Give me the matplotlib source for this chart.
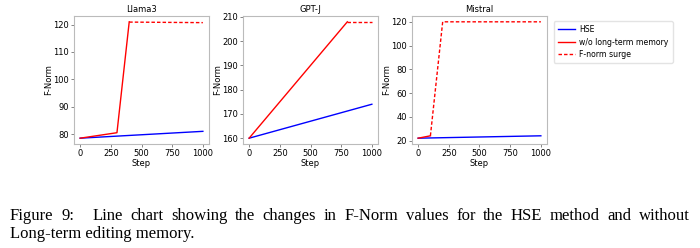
import matplotlib
import matplotlib.pyplot as plt

matplotlib.rcParams['font.family'] = 'DejaVu Sans'

# ---- data ----
models = ['Llama3', 'GPT-J', 'Mistral']

hse_steps = [[0, 1000], [0, 1000], [0, 1000]]
hse_vals = [[78.5, 81.0], [160.0, 174.0], [22.0, 24.0]]

# w/o long-term memory (solid part)
wo_steps = [[0, 300, 400], [0, 800], [0, 100]]
wo_vals = [[78.5, 80.5, 121.0], [160.0, 208.0], [22.0, 24.0]]

# F-norm surge (dashed part)
surge_steps = [[400, 1000], [800, 1000], [100, 200, 1000]]
surge_vals = [[120.9, 120.7], [208.0, 208.0], [24.0, 120.0, 120.0]]

yticks = [[80, 90, 100, 110, 120],
          [160, 170, 180, 190, 200, 210],
          [20, 40, 60, 80, 100, 120]]
xticks = [0, 250, 500, 750, 1000]

caption_1 = 'Figure 9:  Line chart showing the changes in F-Norm values for the HSE method and without'
caption_2 = 'Long-term editing memory.'

W, H = 700, 248
fig = plt.figure(figsize=(W / 100, H / 100), dpi=100)

lefts = [74, 243, 412]
ax_w, ax_top, ax_bot = 135, 16, 144

for i, name in enumerate(models):
    ax = fig.add_axes([lefts[i] / W, 1 - ax_bot / H, ax_w / W, (ax_bot - ax_top) / H])
    ax.plot(hse_steps[i], hse_vals[i], color='#0000ff', lw=1.0, label='HSE')
    ax.plot(wo_steps[i], wo_vals[i], color='#ff0000', lw=1.0, label='w/o long-term memory')
    ax.plot(surge_steps[i], surge_vals[i], color='#ff0000', lw=1.0, ls='--',
            dashes=(2.5, 1.5), label='F-norm surge')
    ax.set_xticks(xticks)
    ax.set_yticks(yticks[i])
    ax.set_title(name, fontsize=6, pad=3)
    ax.set_xlabel('Step', fontsize=6, labelpad=1)
    ax.set_ylabel('F-Norm', fontsize=6, labelpad=0)
    ax.tick_params(labelsize=6, length=2, width=0.5, pad=1.5, color='#555555')
    for s in ax.spines.values():
        s.set_color('#bbbbbb')
        s.set_linewidth(0.8)
    if i == 2:
        ax.legend(loc='upper left', bbox_to_anchor=(1.05, 0.96), borderaxespad=0,
                  fontsize=5.6, frameon=True, edgecolor='#dddddd', fancybox=True,
                  handlelength=2.2, handletextpad=0.6, borderpad=0.5, labelspacing=0.45)

# caption, first line justified across the page width
cap_font = ['Liberation Serif', 'DejaVu Serif']
cap_size = 12
x0, x1 = 10, 690
renderer = fig.canvas.get_renderer()
items = [fig.text(0, 1 - 220 / H, w, family=cap_font, fontsize=cap_size,
                  va='baseline', ha='left')
         for w in caption_1.split(' ') if w]
widths = [t.get_window_extent(renderer).width for t in items]
big = 2.4  # wider space after "Figure 9:"
gap = (x1 - x0 - sum(widths)) / (len(items) - 2 + big)
x = x0
for k, t in enumerate(items):
    t.set_x(x / W)
    x += widths[k] + (gap * big if k == 1 else gap)
fig.text(x0 / W, 1 - 238 / H, caption_2, family=cap_font, fontsize=cap_size,
         va='baseline', ha='left')

fig.savefig('out.png', dpi=100)
